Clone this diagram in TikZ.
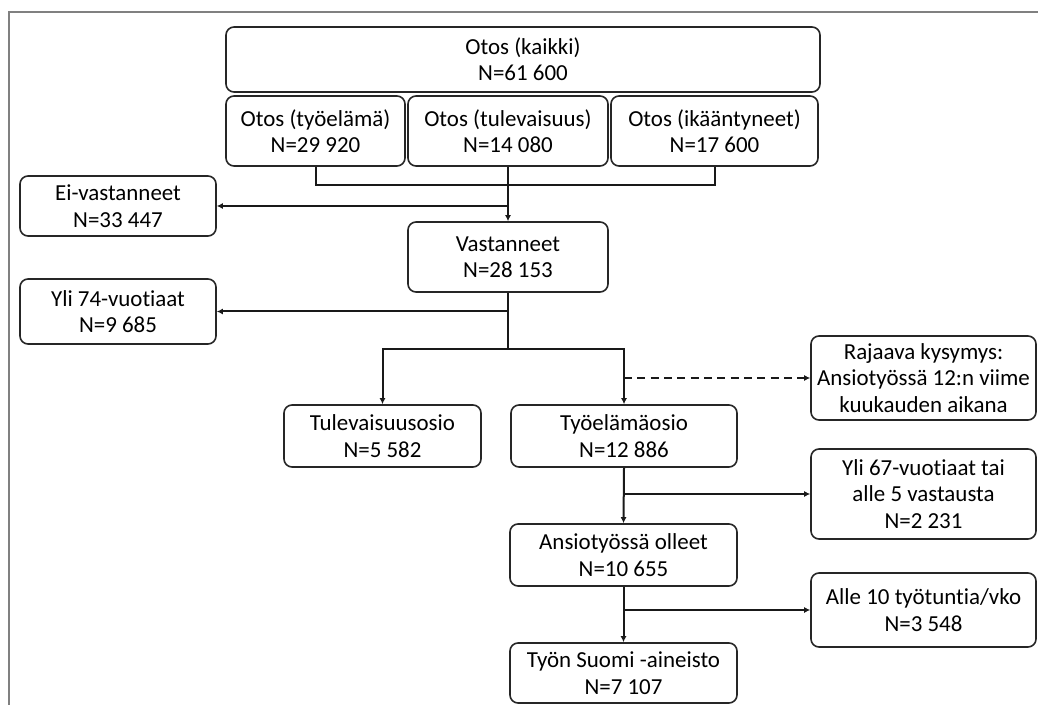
\documentclass[tikz,border=0pt]{standalone}
\usepackage{fontspec}
\setmainfont{Carlito}[Ligatures=NoCommon]
\usetikzlibrary{arrows.meta}

\tikzset{
	box/.style={draw=black!85, line width=1.2pt, rounded corners=6pt, align=center,
		inner sep=0pt, font=\fontsize{17.2pt}{19.8pt}\selectfont},
	sz/.style 2 args={minimum width=#1*0.75pt, minimum height=#2*0.75pt},
	wire/.style={line width=1.5pt, black!90},
	arr/.style={wire, -{Latex[length=4.5pt,width=4.5pt]}}
}

\begin{document}
\begin{tikzpicture}[x=0.75pt, y=-0.75pt]
				\useasboundingbox (0,0) rectangle (1038,705);
				% Frame:
				\draw[gray, line width=1.3pt] (9,705) -- (9,12) -- (1038,12);
				% Boxes:
				\node[box, sz={594}{65}](kaikki) at (523, 59.5){Otos (kaikki)\\N=61 600};
				\node[box, sz={179}{70}](otosT) at (315.5, 131){Otos (työelämä)\\N=29 920};
				\node[box, sz={200}{70}](otosF) at (508, 131){Otos (tulevaisuus)\\N=14 080};
				\node[box, sz={207}{70}](otosI) at (714.5, 131){Otos (ikääntyneet)\\N=17 600};
				\node[box, sz={196}{60}](eivast) at (118, 206){Ei-vastanneet\\N=33 447};
				\node[box, sz={200}{70}](vast) at (508, 257){Vastanneet\\N=28 153};
				\node[box, sz={196}{65}](yli74) at (118, 311.5){Yli 74-vuotiaat\\N=9 685};
				\node[box, sz={197}{62}](tulev) at (382.5, 436){Tulevaisuusosio\\N=5 582};
				\node[box, sz={226}{62}](tyoel) at (624, 436){Työelämäosio\\N=12 886};
				\node[box, sz={225}{84}](rajaava) at (923.5, 378){Rajaava kysymys:\\Ansiotyössä 12:n viime\\kuukauden aikana};
				\node[box, sz={225}{90}](yli67) at (923.5, 494){Yli 67-vuotiaat tai\\alle 5 vastausta\\N=2 231};
				\node[box, sz={227}{62}](ansio) at (623.5, 555){Ansiotyössä olleet\\N=10 655};
				\node[box, sz={225}{74}](alle10) at (923.5, 610){Alle 10 työtuntia/vko\\N=3 548};
				\node[box, sz={227}{60}](tyon) at (623.5, 673){Työn Suomi -aineisto\\N=7 107};
				% Wires:
				\draw[wire] (otosT.south) -- ++(0,18) -| (otosI.south);
				\draw[arr] (otosF.south) -- (vast.north);
				\draw[arr] (otosF.south |- eivast.east) -- (eivast.east);
				\coordinate (split) at (508, 349);
				\draw[wire] (vast.south) -- (split);
				\draw[arr] (vast.south |- yli74.east) -- (yli74.east);
				\draw[arr] (split) -| (tulev.north);
				\draw[arr] (split) -| (tyoel.north);
				\draw[arr, dashed, dash pattern=on 6pt off 4pt] (tyoel.north |- rajaava.west) -- (rajaava.west);
				\draw[arr] (tyoel.south) -- (ansio.north);
				\draw[arr] (tyoel.south |- yli67.west) -- (yli67.west);
				\draw[arr] (ansio.south) -- (tyon.north);
				\draw[arr] (ansio.south |- alle10.west) -- (alle10.west);
			\end{tikzpicture}
\end{document}
